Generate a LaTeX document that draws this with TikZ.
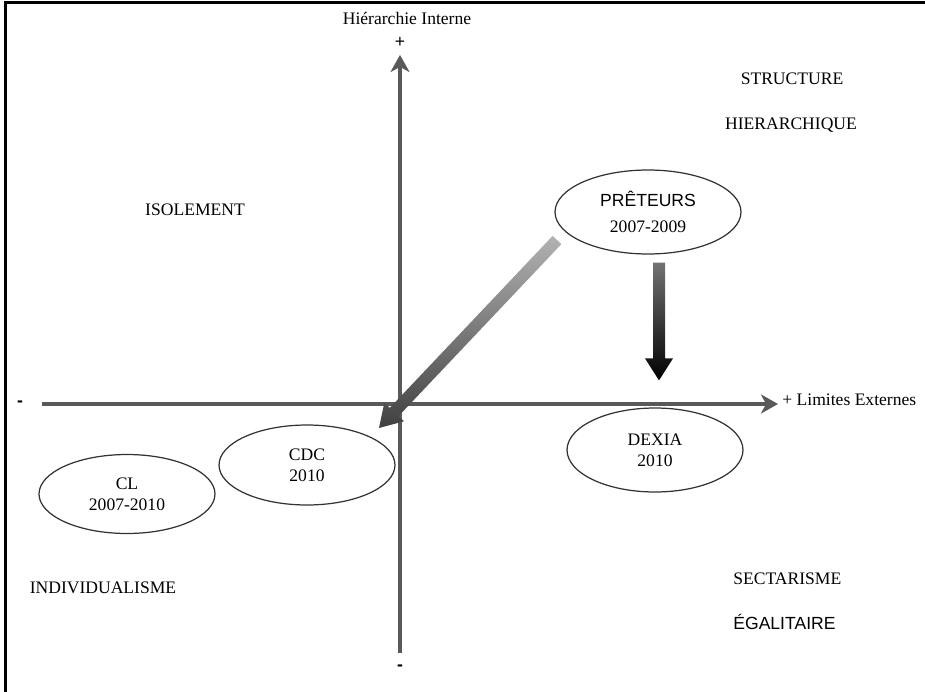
\documentclass[tikz,border=0pt]{standalone}
\usepackage{fontspec}
\setmainfont{Liberation Serif}
\setsansfont{Liberation Sans}
\usepackage{tikz}
\usetikzlibrary{shapes,calc,arrows.meta,positioning}

\begin{document}
\begin{tikzpicture}[x=0.02cm,y=-0.02cm,
    bulle/.style={ellipse,draw=black!80,line width=0.7pt,fill=white,align=center,inner sep=0pt},
    axe/.style={draw=black!65,line width=2.2pt,-{Stealth[length=0.34cm,width=0.38cm,inset=0.1cm]}},
    etiquette/.style={inner sep=0pt}]
            \useasboundingbox (0,0) rectangle (925,692);
            %Frame
            \draw[line width=0.06cm] (5.5,692) -- (5.5,3) -- (925,3);
            %Axis
            \coordinate (origine) at (400,404);
            \coordinate (ybas) at (400,653);
            \coordinate (yhaut) at (400,55);
            \coordinate (xgauche) at (42,404);
            \coordinate (xdroite) at (778,404);
            \draw[axe] (ybas) -- (yhaut);
            \draw[axe] (xgauche) -- (xdroite);
            \node[etiquette] (titrey) at (407,18) {Hiérarchie Interne};
            \node[etiquette] (plusy) at (400,42) {\sffamily +};
            \node[etiquette] (moinsy) at (400,668) {\sffamily\bfseries -};
            \node[etiquette] (moinsx) at (20,404) {\sffamily\bfseries -};
            \node[etiquette,anchor=west] (titrex) at (782,400) {+ Limites Externes};
            %Quadrants
            \node[etiquette] (isol) at (195,210) {ISOLEMENT};
            \node[etiquette] (struc) at (792,79) {STRUCTURE};
            \node[etiquette] (hier) at (791,125) {HIERARCHIQUE};
            \node[etiquette,anchor=west] (sect) at (733,579) {SECTARISME};
            \node[etiquette,anchor=west] (egal) at (733,622) {\sffamily ÉGALITAIRE};
            \node[etiquette] (indiv) at (103,588) {INDIVIDUALISME};
            %Ellipses
            \node[bulle,minimum width=3.72cm,minimum height=1.68cm] (pret) at (648,212) {{\sffamily PRÊTEURS}\\[3pt]2007-2009};
            \node[bulle,minimum width=3.52cm,minimum height=1.68cm] (dexia) at (655,450) {DEXIA\\2010};
            \node[bulle,minimum width=3.52cm,minimum height=1.6cm] (cdc) at (307,465) {CDC\\2010};
            \node[bulle,minimum width=3.52cm,minimum height=1.58cm] (cl) at (127,494) {CL\\2007-2010};
            %Arrows
            \coordinate (vhaut) at ($(pret.south)+(11,8)$);
            \coordinate (vbas) at ($(dexia.north)+(4,-27)$);
            \coordinate (vbase) at ($(vbas)!0.44cm!(vhaut)$);
            \shade[top color=black!55,bottom color=black]
                ($(vhaut)!0.12cm!90:(vbas)$) -- ($(vbase)!0.12cm!90:(vbas)$)
                -- ($(vbase)!0.28cm!90:(vbas)$) -- (vbas) -- ($(vbase)!0.28cm!-90:(vbas)$)
                -- ($(vbase)!0.12cm!-90:(vbas)$) -- ($(vhaut)!0.12cm!-90:(vbas)$) -- cycle;
            \coordinate (dqueue) at ($(pret.center)+(-91,28)$);
            \coordinate (dpointe) at ($(origine)+(-21,24)$);
            \coordinate (dbase) at ($(dpointe)!0.44cm!(dqueue)$);
            \shade[top color=black!30,bottom color=black!75]
                ($(dqueue)!0.12cm!90:(dpointe)$) -- ($(dbase)!0.12cm!90:(dpointe)$)
                -- ($(dbase)!0.27cm!90:(dpointe)$) -- (dpointe) -- ($(dbase)!0.27cm!-90:(dpointe)$)
                -- ($(dbase)!0.12cm!-90:(dpointe)$) -- ($(dqueue)!0.12cm!-90:(dpointe)$) -- cycle;
        \end{tikzpicture}
\end{document}
